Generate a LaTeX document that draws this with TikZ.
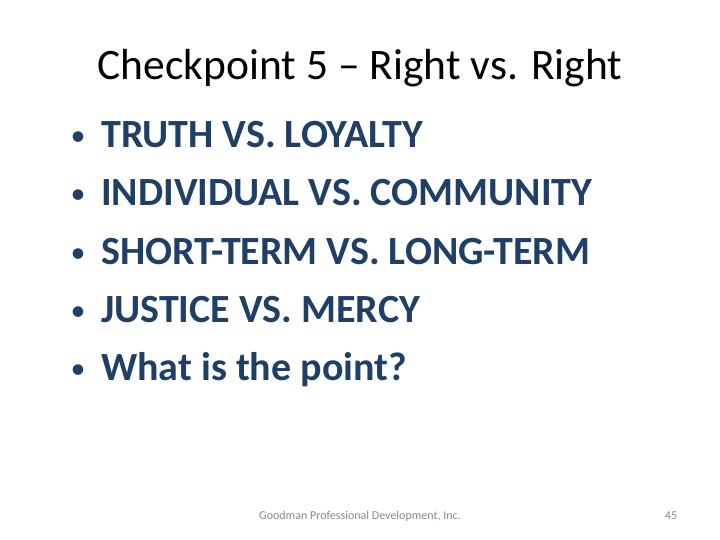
\documentclass[tikz,border=0pt]{standalone}
\usepackage{fontspec}
\setmainfont{Carlito}
\definecolor{bul}{HTML}{1F3F66}
\definecolor{foot}{HTML}{8A8A8A}
\begin{document}
\begin{tikzpicture}[x=1pt,y=-1pt,
  item/.style={anchor=base west,font=\fontsize{40}{44}\selectfont\bfseries,text=bul,inner sep=0},
  dot/.style={anchor=base,font=\fontsize{30}{36}\selectfont,text=bul,inner sep=0}]
\useasboundingbox[fill=white] (0,0) rectangle (720,540);
\node[anchor=base,font=\fontsize{43.5}{48}\selectfont,inner sep=0] (title) at (360,80) {Checkpoint 5 – Right vs. Right};
\foreach \t [count=\i] in {TRUTH VS. LOYALTY,INDIVIDUAL VS. COMMUNITY,SHORT-TERM VS. LONG-TERM,JUSTICE VS. MERCY,What is the point?}{
  \node[dot] (d\i) at (78,146+58*\i-58) {•};
  \node[item] (t\i) at (101,148+58*\i-58) {\t};
}
\node[anchor=base,font=\fontsize{12}{14}\selectfont,text=foot,inner sep=0] (ft) at (360,519) {Goodman Professional Development, Inc.};
\node[anchor=base,font=\fontsize{12}{14}\selectfont,text=foot,inner sep=0] (pg) at (671,519) {45};
\end{tikzpicture}
\end{document}
